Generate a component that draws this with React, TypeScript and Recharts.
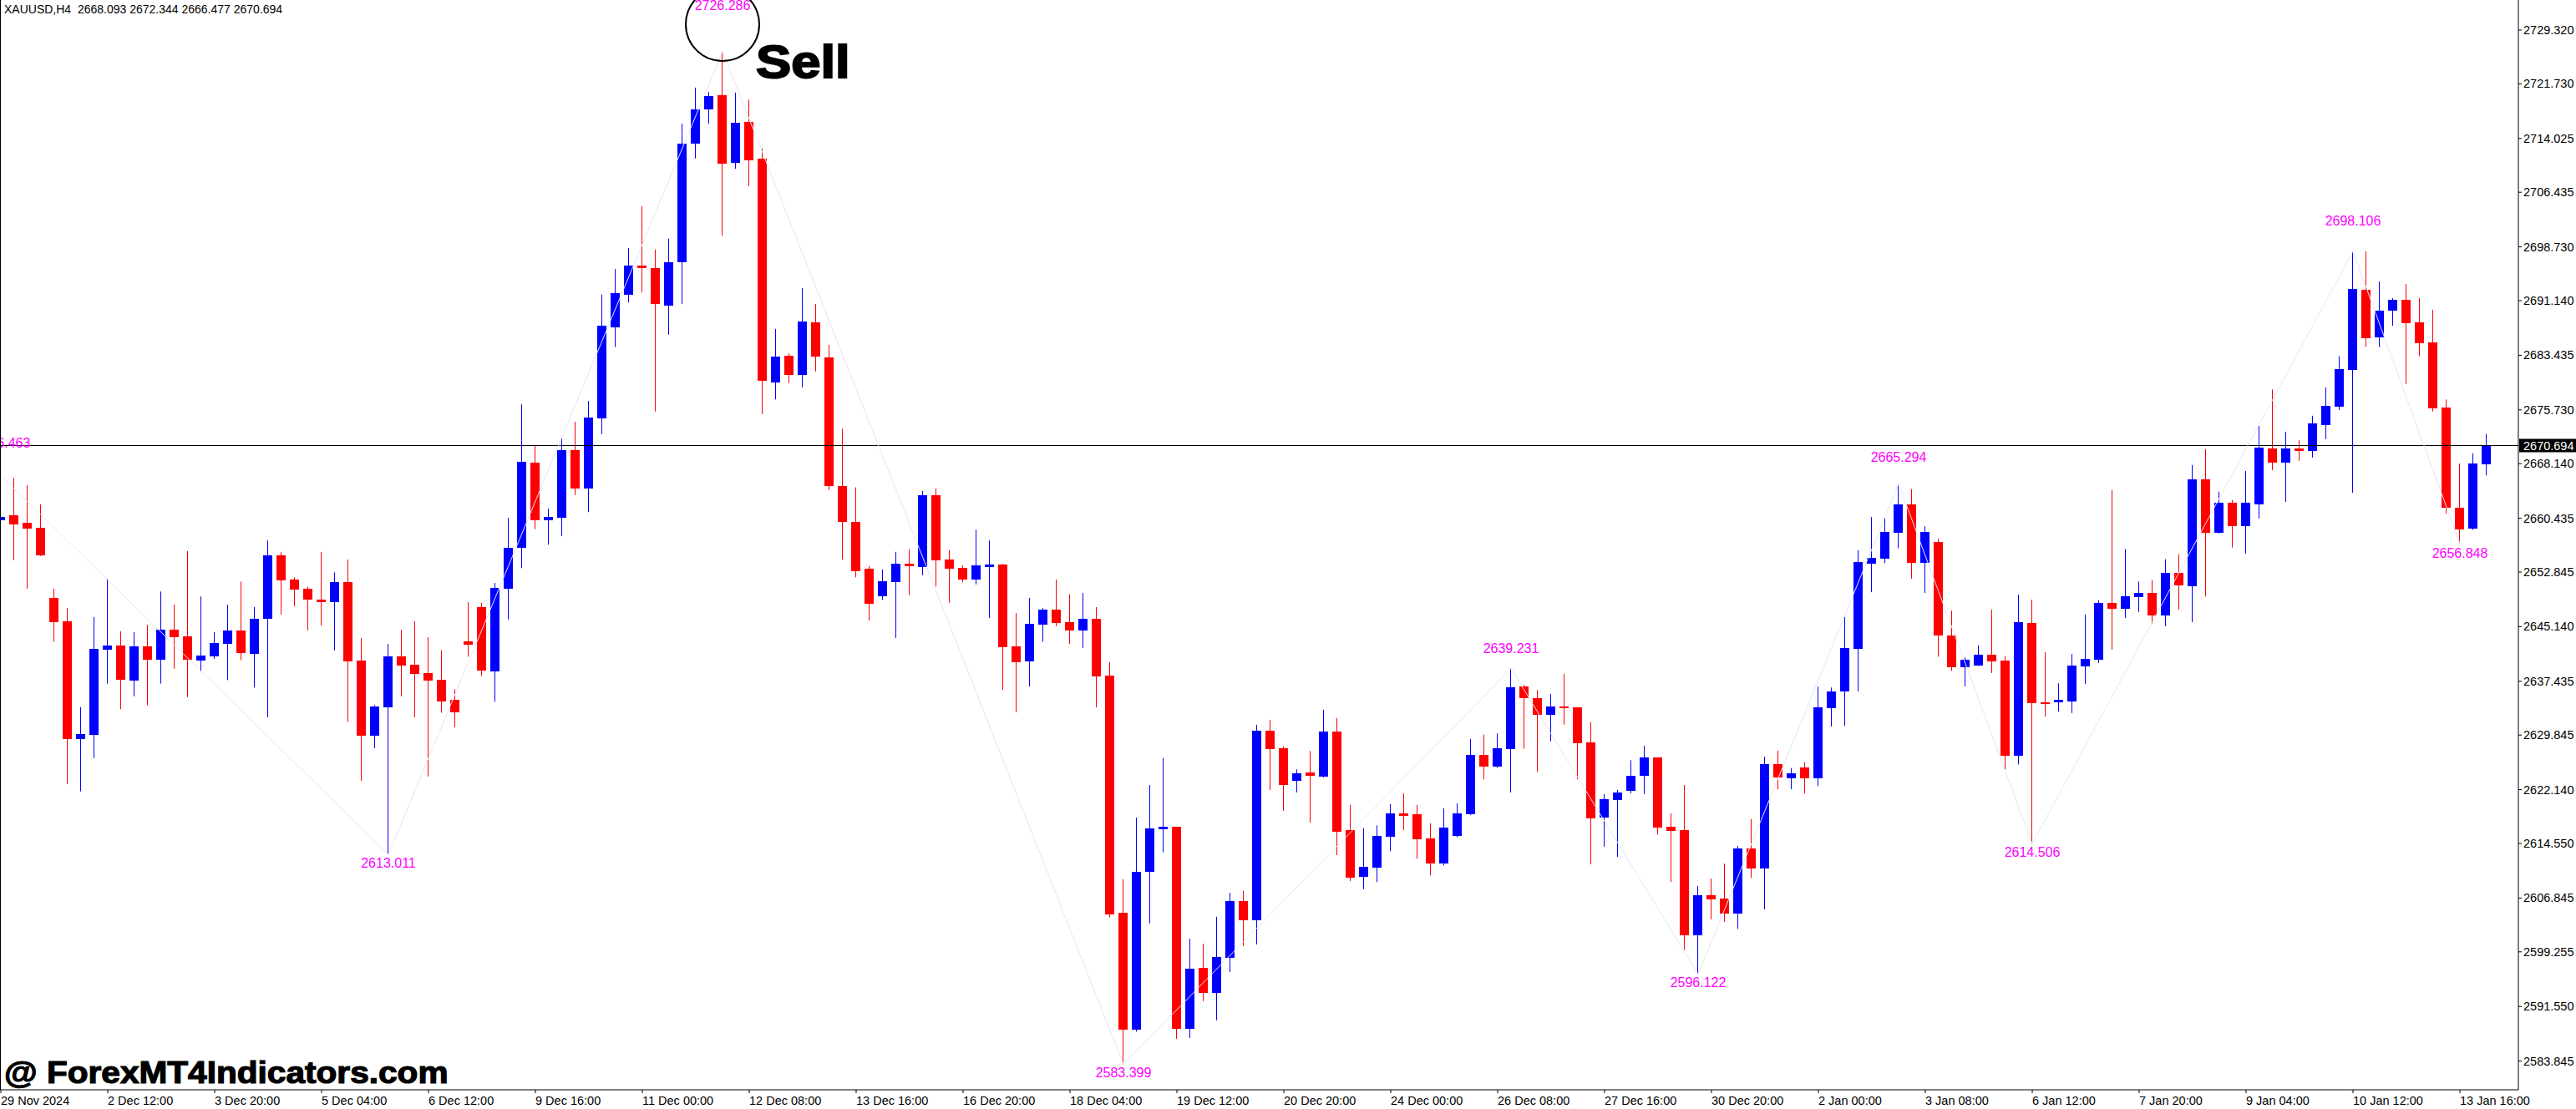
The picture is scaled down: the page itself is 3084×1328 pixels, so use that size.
import { Bar, ComposedChart, Line, ReferenceDot, ReferenceLine, XAxis, YAxis } from 'recharts';

const opens = [
  2660.1, 2660.8, 2659.8, 2659.1, 2649.2, 2645.9, 2629.3, 2629.9, 2641.9, 2642.5,
  2637.5, 2642.3, 2640.5, 2644.7, 2643.8, 2640.4, 2640.9, 2642.7, 2644.6, 2641.3,
  2646.25, 2655.2, 2651.8, 2650.5, 2649.0, 2648.6, 2651.4, 2640.4, 2629.7, 2633.75,
  2640.9, 2639.8, 2638.6, 2637.65, 2634.8, 2643.05, 2647.9, 2638.8, 2650.5, 2656.3,
  2668.3, 2660.2, 2660.5, 2670.0, 2664.6, 2674.55, 2687.4, 2692.0, 2696.1, 2695.7,
  2690.4, 2696.6, 2713.3, 2718.15, 2720.1, 2710.6, 2716.35, 2711.2, 2679.6, 2683.4,
  2680.65, 2688.1, 2683.15, 2665.0, 2659.9, 2653.3, 2649.4, 2651.4, 2654.0, 2653.5,
  2663.7, 2654.6, 2653.45, 2651.8, 2653.5, 2653.9, 2642.3, 2640.2, 2645.4, 2647.55,
  2645.75, 2644.6, 2646.25, 2638.2, 2604.8, 2588.3, 2610.55, 2616.5, 2616.9, 2588.35,
  2597.0, 2593.45, 2598.4, 2606.4, 2603.7, 2630.45, 2628.0, 2623.35, 2624.55, 2623.95,
  2630.35, 2616.45, 2609.85, 2611.1, 2615.45, 2618.8, 2618.7, 2615.3, 2611.7, 2615.6,
  2618.7, 2627.0, 2625.4, 2627.9, 2636.7, 2635.05, 2632.7, 2633.85, 2633.75, 2628.8,
  2618.2, 2620.7, 2621.95, 2624.1, 2626.7, 2616.9, 2616.45, 2601.6, 2607.25, 2606.8,
  2604.65, 2613.8, 2611.0, 2625.7, 2623.75, 2625.3, 2623.75, 2633.65, 2636.0, 2642.0,
  2654.05, 2654.75, 2658.4, 2662.4, 2654.1, 2657.1, 2643.9, 2639.4, 2639.6, 2641.2,
  2640.4, 2626.9, 2645.65, 2634.5, 2634.45, 2634.55, 2639.5, 2640.5, 2648.45, 2647.65,
  2649.3, 2649.9, 2646.7, 2652.7, 2650.8, 2665.92, 2658.4, 2662.65, 2659.3, 2662.4,
  2670.3, 2668.3, 2670.3, 2669.95, 2673.6, 2676.2, 2681.4, 2692.7, 2685.95, 2689.7,
  2691.25, 2688.1, 2685.25, 2676.1, 2661.95, 2658.95, 2668.093,
];

const highs = [
  2666.46, 2666.1, 2665.1, 2662.4, 2650.5, 2647.76, 2633.8, 2646.5, 2651.9, 2644.5,
  2644.35, 2645.4, 2650.1, 2648.25, 2655.8, 2649.4, 2644.35, 2648.25, 2651.5, 2647.9,
  2657.3, 2655.7, 2652.1, 2650.8, 2655.7, 2652.8, 2654.6, 2643.55, 2634.05, 2642.7,
  2644.7, 2645.9, 2643.65, 2641.8, 2636.3, 2648.6, 2648.5, 2651.3, 2660.5, 2676.5,
  2670.7, 2661.8, 2671.8, 2674.05, 2677.0, 2692.0, 2695.6, 2698.55, 2704.45, 2698.35,
  2699.9, 2716.1, 2721.2, 2720.6, 2726.286, 2720.5, 2719.5, 2712.6, 2687.15, 2683.7,
  2692.9, 2690.65, 2684.9, 2673.05, 2664.8, 2653.7, 2653.2, 2655.7, 2656.05, 2664.3,
  2664.65, 2655.95, 2653.8, 2658.8, 2657.3, 2654.0, 2647.05, 2649.2, 2647.75, 2651.8,
  2649.7, 2649.9, 2647.9, 2640.15, 2609.5, 2618.2, 2622.8, 2626.6, 2616.9, 2601.1,
  2600.4, 2604.2, 2607.6, 2607.85, 2631.3, 2632.0, 2628.25, 2625.0, 2627.6, 2633.4,
  2632.25, 2620.0, 2616.7, 2617.1, 2620.1, 2621.6, 2620.0, 2617.4, 2619.5, 2620.2,
  2629.3, 2629.9, 2630.1, 2639.231, 2636.9, 2636.2, 2635.65, 2638.5, 2633.75, 2631.65,
  2621.5, 2622.1, 2626.3, 2628.35, 2626.7, 2618.8, 2622.8, 2608.55, 2609.6, 2611.7,
  2614.2, 2618.0, 2626.8, 2627.65, 2625.2, 2626.0, 2636.7, 2636.55, 2646.5, 2655.9,
  2660.6, 2660.5, 2665.294, 2664.55, 2659.3, 2657.55, 2647.4, 2640.8, 2642.5, 2647.55,
  2640.95, 2649.65, 2648.95, 2641.55, 2637.15, 2641.3, 2646.85, 2648.85, 2664.4, 2656.1,
  2651.5, 2651.7, 2654.65, 2655.35, 2667.95, 2670.2, 2664.2, 2663.0, 2667.1, 2673.45,
  2678.6, 2672.65, 2671.45, 2674.9, 2678.9, 2683.3, 2698.106, 2698.1, 2693.85, 2691.5,
  2693.5, 2691.5, 2689.85, 2677.2, 2668.15, 2669.6, 2672.344,
];

const lows = [
  2658.4, 2654.5, 2650.5, 2655.1, 2643.0, 2622.9, 2621.9, 2626.6, 2637.1, 2633.5,
  2635.3, 2634.05, 2637.1, 2639.2, 2635.2, 2638.8, 2640.6, 2637.6, 2640.4, 2636.55,
  2632.35, 2646.85, 2648.0, 2644.6, 2645.3, 2641.8, 2631.7, 2623.4, 2628.0, 2613.011,
  2635.3, 2632.35, 2624.0, 2633.0, 2630.95, 2640.9, 2638.2, 2634.55, 2646.15, 2653.4,
  2658.9, 2656.7, 2657.9, 2663.7, 2661.3, 2672.3, 2684.6, 2690.9, 2692.3, 2675.5,
  2686.35, 2690.65, 2711.2, 2716.1, 2700.3, 2709.75, 2707.3, 2675.15, 2677.2, 2679.5,
  2678.9, 2681.15, 2664.4, 2654.6, 2652.1, 2646.0, 2648.9, 2643.55, 2649.6, 2652.4,
  2650.8, 2648.5, 2651.4, 2651.1, 2646.35, 2636.2, 2633.05, 2636.7, 2643.0, 2645.2,
  2642.7, 2642.15, 2633.75, 2604.1, 2583.399, 2588.0, 2603.25, 2613.3, 2587.0, 2587.1,
  2592.3, 2589.6, 2596.4, 2600.05, 2600.3, 2622.1, 2619.15, 2621.75, 2617.5, 2623.85,
  2612.9, 2609.25, 2608.1, 2609.1, 2613.45, 2616.45, 2612.4, 2610.05, 2611.45, 2615.4,
  2618.55, 2623.6, 2625.2, 2621.75, 2627.9, 2624.65, 2628.95, 2631.3, 2623.6, 2611.6,
  2614.1, 2612.65, 2621.6, 2621.5, 2615.8, 2609.1, 2599.55, 2596.122, 2603.85, 2603.5,
  2602.5, 2609.7, 2605.25, 2622.2, 2622.2, 2621.6, 2622.65, 2631.05, 2631.15, 2636.0,
  2650.0, 2654.1, 2656.2, 2651.9, 2649.9, 2640.9, 2638.9, 2636.7, 2639.6, 2638.6,
  2625.0, 2625.7, 2614.506, 2632.45, 2633.15, 2632.95, 2637.05, 2640.0, 2641.9, 2646.35,
  2647.2, 2645.55, 2645.2, 2647.55, 2645.75, 2649.4, 2658.3, 2656.3, 2655.45, 2660.4,
  2667.2, 2662.75, 2668.55, 2669.0, 2671.6, 2675.7, 2664.05, 2684.6, 2684.6, 2687.6,
  2679.35, 2683.3, 2675.5, 2661.1, 2656.848, 2658.8, 2666.477,
];

const closes = [
  2660.6, 2659.6, 2659.0, 2655.2, 2645.75, 2629.3, 2630.0, 2642.0, 2642.5, 2637.7,
  2642.3, 2640.5, 2644.7, 2643.6, 2640.5, 2641.1, 2642.85, 2644.6, 2641.45, 2646.25,
  2655.2, 2651.7, 2650.4, 2648.9, 2648.6, 2651.4, 2640.2, 2629.7, 2633.85, 2640.9,
  2639.6, 2638.5, 2637.5, 2634.55, 2633.05, 2642.6, 2638.9, 2650.6, 2656.3, 2668.4,
  2660.2, 2660.6, 2670.0, 2664.6, 2674.65, 2687.6, 2692.2, 2696.1, 2695.7, 2690.65,
  2696.6, 2713.3, 2718.15, 2720.0, 2710.45, 2716.25, 2710.95, 2679.85, 2683.3, 2680.65,
  2688.2, 2683.3, 2665.0, 2659.9, 2653.0, 2648.35, 2651.5, 2654.0, 2653.7, 2663.7,
  2654.5, 2653.3, 2651.8, 2653.8, 2653.9, 2642.25, 2640.1, 2645.55, 2647.55, 2645.65,
  2644.6, 2646.25, 2638.1, 2604.5, 2588.3, 2610.55, 2616.7, 2616.9, 2588.35, 2596.85,
  2593.45, 2598.5, 2606.4, 2603.7, 2630.45, 2627.9, 2622.8, 2624.45, 2624.1, 2630.35,
  2616.2, 2609.7, 2611.3, 2615.6, 2618.8, 2618.45, 2615.15, 2611.7, 2616.8, 2618.8,
  2627.0, 2625.4, 2628.0, 2636.55, 2635.0, 2632.7, 2633.85, 2633.65, 2628.7, 2618.1,
  2620.8, 2621.75, 2624.1, 2626.7, 2616.8, 2616.35, 2601.6, 2607.25, 2606.65, 2604.65,
  2613.8, 2611.0, 2625.7, 2623.85, 2624.45, 2623.75, 2633.75, 2636.0, 2642.15, 2654.25,
  2654.85, 2658.55, 2662.4, 2654.1, 2658.55, 2643.9, 2639.4, 2640.45, 2641.2, 2640.2,
  2626.9, 2645.75, 2634.35, 2634.35, 2634.8, 2639.6, 2640.6, 2648.45, 2647.65, 2649.4,
  2649.9, 2646.7, 2652.7, 2651.0, 2665.92, 2658.4, 2662.65, 2659.3, 2662.65, 2670.45,
  2668.3, 2670.3, 2669.95, 2673.8, 2676.3, 2681.5, 2692.8, 2685.85, 2689.7, 2691.25,
  2688.0, 2685.15, 2675.95, 2661.95, 2658.9, 2668.15, 2670.694,
];

// zigzag swing points
const swingBars = [0, 29, 54, 84, 113, 127, 142, 152, 176, 184];
const swingPrices = [2666.463, 2613.011, 2726.286, 2583.399, 2639.231, 2596.122, 2665.294, 2614.506, 2698.106, 2656.848];

const priceTicks = [
  2729.32, 2721.73, 2714.025, 2706.435, 2698.73, 2691.14, 2683.435, 2675.73, 2670.694, 2668.14, 2660.435,
  2652.845, 2645.14, 2637.435, 2629.845, 2622.14, 2614.55, 2606.845, 2599.255, 2591.55, 2583.845,
];

const timeLabels = [
  '29 Nov 2024', '2 Dec 12:00', '3 Dec 20:00', '5 Dec 04:00', '6 Dec 12:00', '9 Dec 16:00',
  '11 Dec 00:00', '12 Dec 08:00', '13 Dec 16:00', '16 Dec 20:00', '18 Dec 04:00', '19 Dec 12:00',
  '20 Dec 20:00', '24 Dec 00:00', '26 Dec 08:00', '27 Dec 16:00', '30 Dec 20:00', '2 Jan 00:00',
  '3 Jan 08:00', '6 Jan 12:00', '7 Jan 20:00', '9 Jan 04:00', '10 Jan 12:00', '13 Jan 16:00',
];
const barsPerLabel = 8;
const lastPrice = 2670.694;

const rows = opens.map((open, i) => {
  const s = swingBars.indexOf(i);
  return { i, open, high: highs[i], low: lows[i], close: closes[i], swing: s >= 0 ? swingPrices[s] : null };
});

const timeTicks = timeLabels.map((_, k) => k * barsPerLabel);

// how far the swing text sits from its point, px (negative is below)
const labelLift: Record<number, number> = { 0: 39, 29: -10, 54: 56, 84: -10, 113: 25, 127: -10, 142: 32, 152: -10, 176: 37, 184: -11 };

const BLUE = '#0000ff';
const RED = '#ff0000';
const FONT = '"Liberation Sans", Arial, sans-serif';

function Candle(props: any) {
  const { x, y, width, height, payload } = props;
  const perUnit = height / (payload.high - payload.low);
  const yOf = (v: number) => y + (payload.high - v) * perUnit;
  const up = payload.close >= payload.open;
  const color = up ? BLUE : RED;
  const top = Math.round(yOf(Math.max(payload.open, payload.close)));
  const bottom = Math.round(yOf(Math.min(payload.open, payload.close)));
  const mid = Math.floor(x + width / 2);
  return (
    <g>
      <rect x={mid} y={y} width={1} height={height} fill={color} />
      <rect x={mid - 5} y={top} width={11} height={Math.max(bottom - top, 2)} fill={color} />
    </g>
  );
}

function PriceTick({ x, y, payload }: any) {
  if (payload.value === lastPrice) {
    return (
      <g>
        <rect x={x + 1} y={y - 8} width={68} height={16} fill="#000" />
        <text x={x + 6} y={y + 5} fontFamily={FONT} fontSize={14.5} fill="#fff">{payload.value.toFixed(3)}</text>
      </g>
    );
  }
  return (
    <g>
      <line x1={x} x2={x + 4} y1={y} y2={y} stroke="#000" />
      <text x={x + 6} y={y + 5} fontFamily={FONT} fontSize={14.5} fill="#000">{payload.value.toFixed(3)}</text>
    </g>
  );
}

function TimeTick({ x, y, payload }: any) {
  return (
    <g>
      <line x1={x} x2={x} y1={y} y2={y + 4} stroke="#000" />
      <text x={x} y={y + 18} fontFamily={FONT} fontSize={14.5} fill="#000">{timeLabels[payload.value / barsPerLabel]}</text>
    </g>
  );
}

function SwingLabel({ x, y, index }: any) {
  const row = rows[index];
  if (!row || row.swing == null) return null;
  return (
    <text x={Math.max(x, 3)} y={y - labelLift[row.i] + 6} textAnchor="middle" fontFamily={FONT} fontSize={16} fill="#ff00ff">
      {row.swing.toFixed(3)}
    </text>
  );
}

export default function App() {
  return (
    <div style={{ position: 'absolute', left: 0, top: 0, width: 3084, height: 1328, background: '#fff', overflow: 'hidden' }}>
      <ComposedChart width={3084} height={1328} data={rows} margin={{ top: 0, right: 0, bottom: 0, left: 0 }}>
        <XAxis
          dataKey="i"
          type="number"
          domain={[-1 / 16, 3014 / 16]}
          allowDataOverflow
          ticks={timeTicks}
          interval={0}
          height={23}
          tickSize={0}
          tickMargin={0}
          tickLine={false}
          axisLine={{ stroke: '#000' }}
          tick={<TimeTick />}
        />
        <YAxis
          orientation="right"
          type="number"
          domain={[2579.79, 2733.56]}
          allowDataOverflow
          ticks={priceTicks}
          interval={0}
          width={69}
          tickSize={0}
          tickMargin={0}
          tickLine={false}
          axisLine={{ stroke: '#000' }}
          tick={<PriceTick />}
        />
        <ReferenceLine y={lastPrice} stroke="#000" strokeWidth={1} />
        <Bar dataKey={(d: any) => [d.low, d.high]} barSize={11} shape={<Candle />} isAnimationActive={false} />
        <Line
          dataKey="swing"
          connectNulls
          stroke="#e6e6fa"
          strokeWidth={1}
          dot={false}
          label={<SwingLabel />}
          isAnimationActive={false}
        />
        <ReferenceDot x={54} y={2730.14} r={44} fill="none" stroke="#000" strokeWidth={2} ifOverflow="visible" />
      </ComposedChart>
      <div style={{ position: 'absolute', left: 0, top: 0, width: 1, height: 1305, background: '#000' }} />
      <div style={{ position: 'absolute', left: 5, top: 3, fontFamily: FONT, fontSize: 14, whiteSpace: 'pre', color: '#000' }}>
        XAUUSD,H4  2668.093 2672.344 2666.477 2670.694
      </div>
      <div style={{ position: 'absolute', left: 905, top: 42, fontFamily: FONT, fontSize: 56, fontWeight: 700, lineHeight: '64px', color: '#000', WebkitTextStroke: '2px #000', transform: 'scaleX(1.13)', transformOrigin: 'left top' }}>
        Sell
      </div>
      <div style={{ position: 'absolute', left: 5, top: 1264, fontFamily: FONT, fontSize: 36, fontWeight: 700, lineHeight: '42px', whiteSpace: 'pre', color: '#000', WebkitTextStroke: '1.2px #000', transform: 'scaleX(1.128)', transformOrigin: 'left top' }}>
        @ ForexMT4Indicators.com
      </div>
    </div>
  );
}
